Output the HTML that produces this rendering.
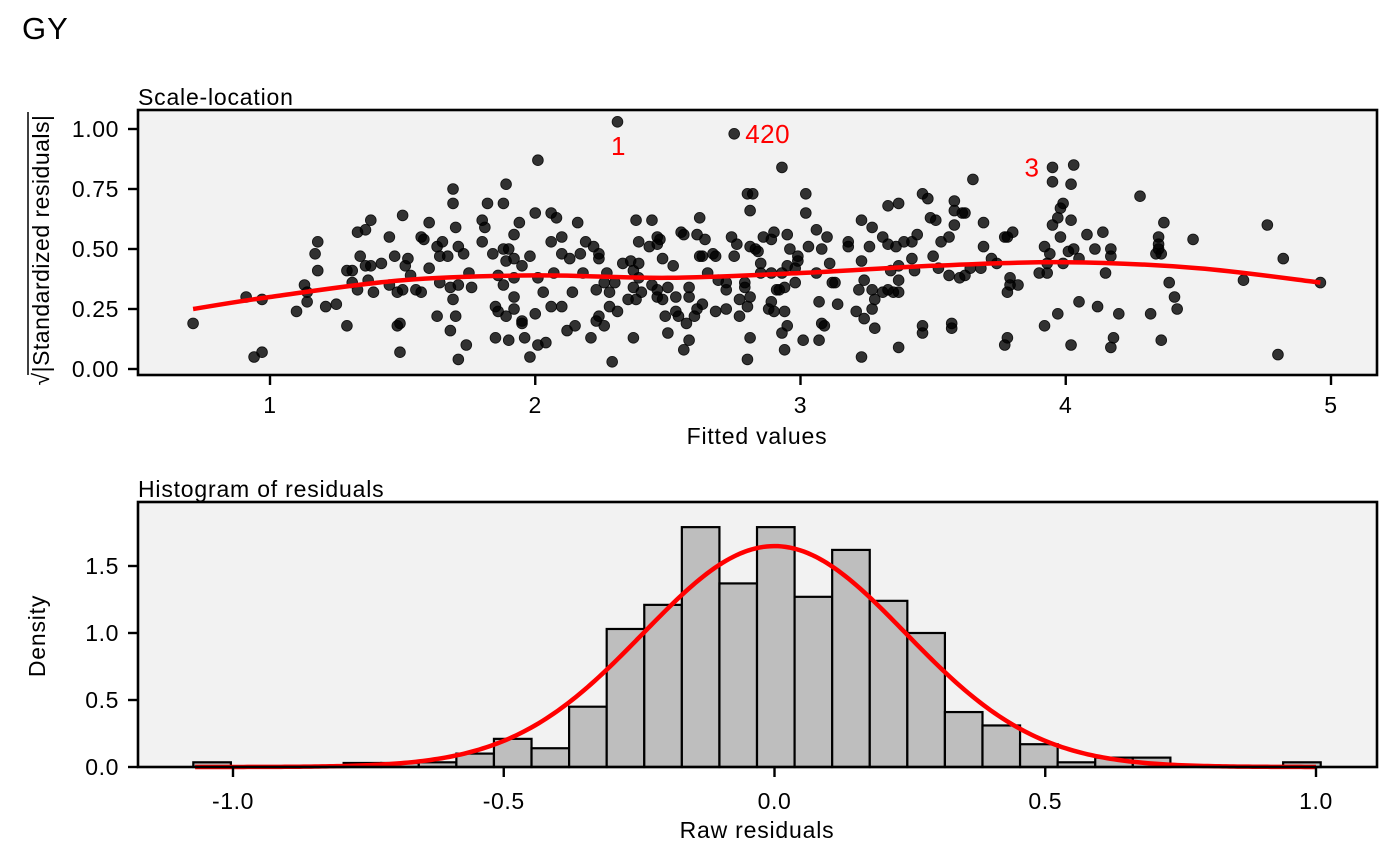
<!DOCTYPE html>
<html><head><meta charset="utf-8"><style>
body{margin:0;background:#fff;}
svg{display:block;font-family:"Liberation Sans",Arial,sans-serif;}
</style></head><body>
<svg id="c" width="1400" height="866" viewBox="0 0 1400 866" xmlns="http://www.w3.org/2000/svg"></svg>
<script>
const fitted=[0.71,0.91,0.97,0.94,0.97,1.10,1.13,1.14,1.14,1.18,1.17,1.18,1.21,1.25,1.29,1.29,1.31,1.31,1.33,1.34,1.33,1.36,1.38,1.38,1.36,1.37,1.39,1.42,1.45,1.47,1.45,1.48,1.50,1.50,1.49,1.48,1.49,1.52,1.51,1.53,1.57,1.58,1.60,1.55,1.57,1.60,1.63,1.65,1.64,1.67,1.73,1.71,1.70,1.69,1.69,1.64,1.68,1.71,1.75,1.76,1.69,1.63,1.70,1.68,1.74,1.71,1.80,1.80,1.81,1.82,1.88,1.89,1.84,1.88,1.89,1.92,1.90,1.92,1.94,2.00,2.06,2.01,2.06,1.98,1.95,1.86,1.92,1.88,2.01,2.07,1.92,1.85,1.86,1.89,1.92,2.03,2.06,2.00,1.95,1.95,1.85,1.90,1.96,2.01,2.04,1.98,
2.31,2.75,2.93,2.80,2.82,2.81,3.02,3.02,2.08,2.16,2.10,2.10,2.13,2.17,2.19,2.22,2.24,2.24,2.18,2.14,2.10,2.23,2.27,2.26,2.30,2.28,2.28,2.31,2.24,2.23,2.26,2.15,2.12,2.21,2.29,2.37,2.33,2.36,2.37,2.39,2.39,2.37,2.35,2.38,2.40,2.38,2.44,2.39,2.43,2.46,2.47,2.46,2.48,2.52,2.44,2.46,2.46,2.50,2.48,2.53,2.49,2.53,2.54,2.50,2.57,2.58,2.56,2.55,2.56,2.61,2.62,2.64,2.62,2.63,2.67,2.68,2.58,2.58,2.63,2.61,2.60,2.68,2.65,2.69,2.72,2.72,2.72,2.77,2.77,2.80,2.81,2.79,2.79,2.75,2.74,2.76,2.81,2.83,2.84,2.85,2.85,2.86,2.90,2.89,2.89,2.93,2.95,2.96,2.99,2.99,2.95,2.98,2.91,2.92,2.94,2.98,2.89,2.88,2.90,2.94,2.95,2.93,2.94,2.81,2.80,3.01,3.07,3.08,3.09,3.07,3.14,3.06,3.03,3.06,3.10,3.08,3.11,3.12,3.13,3.18,3.18,3.23,3.27,3.23,3.26,3.24,3.22,3.21,3.24,3.28,3.23,3.27,3.28,3.27,3.31,3.31,3.33,3.37,3.33,3.36,3.39,3.42,3.44,3.42,3.34,3.37,3.43,3.37,3.35,3.37,3.33,3.37,3.46,3.46,3.57,3.57,3.50,3.52,3.56,3.60,3.53,3.56,3.58,3.49,3.51,3.46,3.48,3.58,3.58,3.61,
3.65,3.62,3.69,3.69,3.72,3.74,3.68,3.64,3.62,3.77,3.78,3.80,3.79,3.79,3.82,3.78,3.78,3.77,3.95,4.03,3.95,4.02,3.99,3.98,3.97,4.02,3.95,3.98,3.92,3.94,4.01,4.03,4.05,3.93,3.99,3.90,3.93,4.08,4.14,4.11,4.17,4.17,4.15,4.05,4.12,4.20,3.97,3.92,4.02,4.18,4.17,4.28,4.37,4.35,4.35,4.35,4.34,4.36,4.39,4.41,4.42,4.32,4.36,4.48,4.67,4.76,4.82,4.80,4.96];
const sqrtRes=[0.19,0.30,0.29,0.05,0.07,0.24,0.35,0.28,0.32,0.41,0.48,0.53,0.26,0.27,0.18,0.41,0.41,0.36,0.33,0.47,0.57,0.58,0.62,0.43,0.43,0.37,0.32,0.44,0.55,0.47,0.35,0.32,0.33,0.64,0.19,0.18,0.07,0.46,0.43,0.39,0.55,0.54,0.61,0.33,0.32,0.42,0.51,0.53,0.47,0.47,0.48,0.51,0.59,0.69,0.75,0.36,0.34,0.35,0.40,0.34,0.29,0.22,0.22,0.16,0.10,0.04,0.53,0.62,0.59,0.69,0.69,0.77,0.48,0.50,0.45,0.46,0.50,0.56,0.61,0.65,0.65,0.87,0.53,0.47,0.43,0.39,0.38,0.35,0.38,0.40,0.30,0.26,0.24,0.22,0.25,0.32,0.26,0.23,0.20,0.19,0.13,0.12,0.13,0.10,0.11,0.05,
1.03,0.98,0.84,0.73,0.73,0.66,0.73,0.65,0.63,0.61,0.55,0.48,0.46,0.48,0.53,0.51,0.48,0.46,0.40,0.32,0.26,0.33,0.40,0.36,0.36,0.32,0.26,0.24,0.22,0.20,0.18,0.18,0.16,0.13,0.03,0.13,0.44,0.45,0.41,0.44,0.38,0.34,0.29,0.29,0.32,0.62,0.62,0.53,0.51,0.55,0.54,0.52,0.46,0.43,0.35,0.33,0.30,0.34,0.29,0.30,0.22,0.24,0.22,0.15,0.19,0.12,0.08,0.57,0.56,0.56,0.63,0.54,0.47,0.47,0.48,0.47,0.34,0.30,0.27,0.25,0.22,0.24,0.40,0.37,0.36,0.33,0.25,0.22,0.29,0.26,0.30,0.34,0.36,0.47,0.55,0.52,0.51,0.50,0.49,0.44,0.40,0.55,0.57,0.54,0.40,0.40,0.56,0.50,0.47,0.45,0.43,0.42,0.33,0.33,0.34,0.36,0.28,0.25,0.24,0.24,0.18,0.15,0.08,0.13,0.04,0.12,0.12,0.19,0.18,0.28,0.27,0.40,0.51,0.58,0.55,0.50,0.44,0.36,0.36,0.53,0.51,0.62,0.59,0.45,0.51,0.37,0.33,0.24,0.21,0.17,0.05,0.25,0.29,0.33,0.32,0.55,0.68,0.69,0.52,0.51,0.53,0.53,0.56,0.46,0.41,0.43,0.41,0.37,0.32,0.32,0.33,0.09,0.18,0.15,0.19,0.17,0.47,0.42,0.39,0.38,0.53,0.55,0.60,0.63,0.62,0.73,0.71,0.70,0.66,0.65,
0.79,0.65,0.61,0.51,0.46,0.44,0.42,0.42,0.39,0.55,0.55,0.57,0.38,0.35,0.35,0.32,0.13,0.10,0.84,0.85,0.78,0.77,0.69,0.67,0.63,0.62,0.60,0.55,0.51,0.48,0.49,0.50,0.46,0.44,0.44,0.40,0.40,0.56,0.57,0.50,0.50,0.47,0.40,0.28,0.26,0.23,0.23,0.18,0.10,0.13,0.09,0.72,0.61,0.55,0.52,0.50,0.48,0.48,0.36,0.30,0.25,0.23,0.12,0.54,0.37,0.60,0.46,0.06,0.36];
const labels=[["1",2.31,1.03,"below"],["420",2.75,0.98,"right"],["3",3.95,0.84,"left"]];
const smoothX=[0.71,1.0,1.5,2.0,2.5,3.0,3.5,4.0,4.5,4.96];
const smoothY=[0.25,0.30,0.37,0.39,0.38,0.40,0.43,0.445,0.42,0.36];
const xTicks1=[1,2,3,4,5];
const yTicks1=[0,0.25,0.5,0.75,1.0];
const yTickLabels1=["0.00","0.25","0.50","0.75","1.00"];
const binStart=-1.0733, binWidth=0.0694;
const density=[0.035,0,0,0,0.03,0.03,0.035,0.10,0.21,0.14,0.45,1.03,1.21,1.79,1.37,1.79,1.27,1.62,1.24,1.00,0.41,0.31,0.17,0.035,0.07,0.07,0,0,0,0.035];
const normMean=0, normSd=0.242;
const xTicks2=[-1,-0.5,0,0.5,1];
const xTickLabels2=["-1.0","-0.5","0.0","0.5","1.0"];
const yTicks2=[0,0.5,1,1.5];
const yTickLabels2=["0.0","0.5","1.0","1.5"];

const NS="http://www.w3.org/2000/svg", svg=document.getElementById('c');
function el(t,a,p){const e=document.createElementNS(NS,t);for(const k in a)e.setAttribute(k,a[k]);(p||svg).appendChild(e);return e;}
function txt(s,a,p){const e=el('text',a,p);e.textContent=s;return e;}
const TF=23, TLS=0.6, AF=23, ALS=0.8;

const t=txt("GY",{x:22,y:39,"font-size":31,"letter-spacing":1,fill:"#000"});



const L=138,R=1377,T1=110,B1=375;
const X1=v=>270+(v-1)*265.25, Y1=v=>369-v*240;
const g1=el('g',{});


const bg1=el('rect',{x:L,y:T1,width:R-L,height:B1-T1,fill:"#f2f2f2"},g1);


const pts=el('g',{},g1);


for(let i=0;i<fitted.length;i++){
 const c=el('circle',{cx:X1(fitted[i]),cy:Y1(sqrtRes[i]),r:5.4,fill:"#000","fill-opacity":0.8,stroke:"#000","stroke-opacity":0.85,"stroke-width":0.8},pts);
 
 
}
function cr(xs,ys,X,Y){let p=xs.map((x,i)=>[X(x),Y(ys[i])]);let s="M"+p[0];for(let i=0;i<p.length-1;i++){const p0=p[Math.max(i-1,0)],p1=p[i],p2=p[i+1],p3=p[Math.min(i+2,p.length-1)];s+="C"+(p1[0]+(p2[0]-p0[0])/6)+","+(p1[1]+(p2[1]-p0[1])/6)+" "+(p2[0]-(p3[0]-p1[0])/6)+","+(p2[1]-(p3[1]-p1[1])/6)+" "+p2[0]+","+p2[1];}return s;}
const sm=el('path',{d:cr(smoothX,smoothY,X1,Y1),fill:"none",stroke:"#ff0000","stroke-width":4.5},g1);


labels.forEach(l=>{
 let x=X1(l[1]),y=Y1(l[2]),a={fill:"#ff0000","font-size":26,"letter-spacing":0.5};
 if(l[3]=="below"){a.x=x+1;a.y=y+33;a["text-anchor"]="middle";}
 else if(l[3]=="right"){a.x=x+11;a.y=y+9;}
 else {a.x=x-13;a.y=y+9;a["text-anchor"]="end";}
 const e=txt(l[0],a,g1);
 
 
});
const fr1=el('rect',{x:L,y:T1,width:R-L,height:B1-T1,fill:"none",stroke:"#000","stroke-width":2.6},g1);


xTicks1.forEach(v=>{
 el('line',{x1:X1(v),x2:X1(v),y1:B1,y2:B1+10,stroke:"#000","stroke-width":2.4},g1);
 const e=txt(String(v),{x:X1(v),y:B1+38,"text-anchor":"middle","font-size":TF,"letter-spacing":TLS},g1);
 
 
});
yTicks1.forEach((v,i)=>{
 el('line',{x1:L-10,x2:L,y1:Y1(v),y2:Y1(v),stroke:"#000","stroke-width":2.4},g1);
 const e=txt(yTickLabels1[i],{x:L-19,y:Y1(v)+8,"text-anchor":"end","font-size":TF,"letter-spacing":TLS},g1);
 
 
});
const st1=txt("Scale-location",{x:L,y:T1-5,"font-size":AF,"letter-spacing":ALS},g1);


const xt1=txt("Fitted values",{x:757,y:444,"text-anchor":"middle","font-size":AF,"letter-spacing":ALS},g1);


const yt1=txt("√|Standardized residuals|",{x:-250,y:49,"text-anchor":"middle","font-size":AF,"letter-spacing":0.5,transform:"rotate(-90)"},g1);


const ol=el('line',{x1:28,x2:28,y1:112,y2:375,stroke:"#000","stroke-width":1.5},g1);



const T2=502,B2=767;
const X2=v=>774.5+v*541.5, Y2=v=>767-v*134;
const g2=el('g',{});


const bg2=el('rect',{x:L,y:T2,width:R-L,height:B2-T2,fill:"#f2f2f2"},g2);


density.forEach((v,i)=>{
 if(v<=0)return;
 const x0=X2(binStart+i*binWidth),x1=X2(binStart+(i+1)*binWidth);
 const b=el('rect',{x:x0,y:Y2(v),width:x1-x0,height:Y2(0)-Y2(v),fill:"#bebebe",stroke:"#000","stroke-width":2.2},g2);
 
 
});
let nd="";
for(let k=0;k<=300;k++){const x=-1.07+k*(1.0+1.07)/300;const y=Math.exp(-0.5*((x-normMean)/normSd)**2)/(normSd*Math.sqrt(2*Math.PI));nd+=(k?"L":"M")+X2(x).toFixed(2)+","+Y2(y).toFixed(2);}
const nc=el('path',{d:nd,fill:"none",stroke:"#ff0000","stroke-width":4.5},g2);


const fr2=el('rect',{x:L,y:T2,width:R-L,height:B2-T2,fill:"none",stroke:"#000","stroke-width":2.6},g2);


xTicks2.forEach((v,i)=>{
 el('line',{x1:X2(v),x2:X2(v),y1:B2,y2:B2+10,stroke:"#000","stroke-width":2.4},g2);
 const e=txt(xTickLabels2[i],{x:X2(v),y:B2+42,"text-anchor":"middle","font-size":TF,"letter-spacing":TLS},g2);
 
 
});
yTicks2.forEach((v,i)=>{
 el('line',{x1:L-10,x2:L,y1:Y2(v),y2:Y2(v),stroke:"#000","stroke-width":2.4},g2);
 const e=txt(yTickLabels2[i],{x:L-19,y:Y2(v)+8,"text-anchor":"end","font-size":TF,"letter-spacing":TLS},g2);
 
 
});
const st2=txt("Histogram of residuals",{x:L,y:T2-5,"font-size":AF,"letter-spacing":ALS},g2);


const xt2=txt("Raw residuals",{x:757,y:838,"text-anchor":"middle","font-size":AF,"letter-spacing":ALS},g2);


const yt2=txt("Density",{x:-636,y:45,"text-anchor":"middle","font-size":AF,"letter-spacing":ALS,transform:"rotate(-90)"},g2);


</script>
</body></html>
